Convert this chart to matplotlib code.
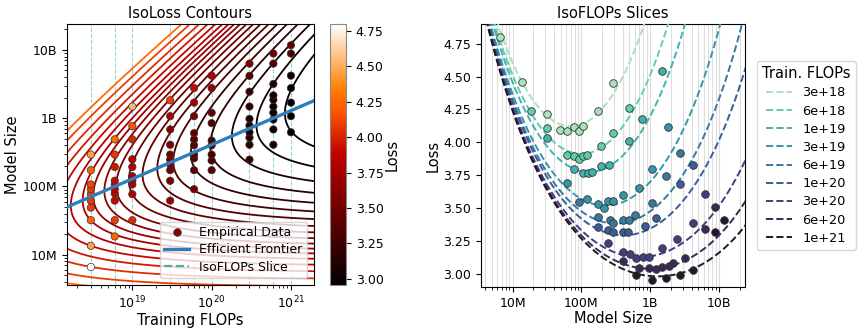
import numpy as np
import matplotlib
matplotlib.use("Agg")
import matplotlib.pyplot as plt
import seaborn as sns
from matplotlib.lines import Line2D
from matplotlib.ticker import FuncFormatter, LogLocator, NullFormatter

# ---------------- data ----------------
budgets = [3e18, 6e18, 1e19, 3e19, 6e19, 1e20, 3e20, 6e20, 1e21]
budget_labels = ["3e+18", "6e+18", "1e+19", "3e+19", "6e+19", "1e+20", "3e+20", "6e+20", "1e+21"]

n_3e18 = [6.6e6, 13.5e6, 32e6, 49e6, 62e6, 77e6, 91e6, 107e6, 173e6, 293e6]
l_3e18 = [4.80, 4.458, 4.212, 4.096, 4.083, 4.116, 4.09, 4.121, 4.238, 4.45]
n_6e18 = [18.5e6, 32e6, 62e6, 79e6, 91e6, 107e6, 121e6, 193e6, 293e6, 489e6]
l_6e18 = [4.235, 4.108, 3.905, 3.898, 3.875, 3.895, 3.905, 3.971, 4.073, 4.263]
n_1e19 = [32e6, 77e6, 107e6, 123e6, 141e6, 193e6, 250e6, 489e6, 764e6, 1.48e9]
l_1e19 = [4.03, 3.80, 3.768, 3.768, 3.778, 3.817, 3.83, 4.014, 4.174, 4.542]
n_3e19 = [62e6, 121e6, 173e6, 211e6, 247e6, 293e6, 408e6, 684e6, 1.07e9, 1.83e9]
l_3e19 = [3.692, 3.566, 3.528, 3.502, 3.553, 3.553, 3.596, 3.652, 3.794, 4.116]
n_6e19 = [91e6, 173e6, 258e6, 293e6, 400e6, 489e6, 603e6, 1.07e9, 1.69e9, 2.76e9]
l_6e19 = [3.545, 3.436, 3.413, 3.39, 3.413, 3.413, 3.449, 3.54, 3.742, 3.92]
n_1e20 = [173e6, 240e6, 293e6, 400e6, 470e6, 845e6, 1.2e9, 2.76e9, 4.2e9]
l_1e20 = [3.355, 3.337, 3.322, 3.322, 3.322, 3.363, 3.424, 3.685, 3.83]
n_3e20 = [247e6, 408e6, 518e6, 622e6, 781e6, 977e6, 1.48e9, 2.44e9, 4.17e9, 6.3e9]
l_3e20 = [3.233, 3.165, 3.15, 3.122, 3.13, 3.13, 3.195, 3.266, 3.388, 3.61]
n_6e20 = [408e6, 684e6, 955e6, 1.2e9, 1.48e9, 1.86e9, 2.16e9, 3.17e9, 6.3e9, 8.85e9]
l_6e20 = [3.10, 3.046, 3.043, 3.038, 3.05, 3.058, 3.083, 3.118, 3.34, 3.507]
n_1e21 = [622e6, 1.07e9, 1.69e9, 2.76e9, 4.2e9, 8.85e9, 11.7e9]
l_1e21 = [2.99, 2.957, 2.967, 2.99, 3.03, 3.317, 3.41]

sizes = [n_3e18, n_6e18, n_1e19, n_3e19, n_6e19, n_1e20, n_3e20, n_6e20, n_1e21]
losses = [l_3e18, l_6e18, l_1e19, l_3e19, l_6e19, l_1e20, l_3e20, l_6e20, l_1e21]

# fitted parametric law L(N, D) = E + A/N^alpha + B/D^beta, D = C/(6N)
E_fit, A_fit, B_fit = 2.402, 755.0, 4246.0
alpha_fit, beta_fit = 0.375, 0.375
# iso-loss contour levels
contour_levels = [3.0, 3.1, 3.2, 3.3, 3.4, 3.5, 3.6, 3.7, 3.8, 3.9, 4.0, 4.1, 4.2,
                  4.32, 4.464, 4.637, 4.844, 5.093, 5.342]

tick_names = {1e7: "10M", 1e8: "100M", 1e9: "1B", 1e10: "10B"}
loss_ticks = [3.0, 3.25, 3.5, 3.75, 4.0, 4.25, 4.5, 4.75]


def loss_fn(N, C):
    D = C / (6.0 * N)
    return E_fit + A_fit / N ** alpha_fit + B_fit / D ** beta_fit


def size_fmt(v, pos):
    for k, s in tick_names.items():
        if abs(v / k - 1) < 1e-6:
            return s
    return ""


# ---------------- figure ----------------
fig = plt.figure(figsize=(8.59, 3.30), dpi=100)
ax1 = fig.add_axes([0.078, 0.1364, 0.2875, 0.791])
cax = fig.add_axes([0.3842, 0.1364, 0.0186, 0.791])
ax2 = fig.add_axes([0.560, 0.1303, 0.3073, 0.797])

# ---- left: IsoLoss contours ----
Cg = np.logspace(18.0, 21.5, 400)
Ng = np.logspace(6.4, 10.6, 400)
CC, NN = np.meshgrid(Cg, Ng)
LL = loss_fn(NN, CC)
cmap = plt.get_cmap("gist_heat")
fracs = list(np.linspace(0.0, 0.62, len(contour_levels) - 1)) + [0.71]
ax1.contour(CC, NN, LL, levels=contour_levels, colors=[cmap(f) for f in fracs],
            linewidths=1.3)

for c in budgets:
    ax1.axvline(c, color="#9ad6d6", ls="--", lw=0.8, zorder=1)

allC = np.concatenate([[c] * len(n) for c, n in zip(budgets, sizes)])
allN = np.concatenate(sizes)
allL = np.concatenate(losses)
sc = ax1.scatter(allC, allN, c=allL, cmap="gist_heat", vmin=min(allL), vmax=max(allL),
                 s=28, edgecolors="#333333", linewidths=0.5, zorder=4)

Cf = np.logspace(18.0, 21.5, 50)
Nopt = (A_fit / B_fit) ** (1 / (2 * alpha_fit)) * np.sqrt(Cf / 6.0)
ax1.plot(Cf, Nopt, color="#2e7ebc", lw=2.4, zorder=5)

ax1.set_xscale("log")
ax1.set_yscale("log")
ax1.set_xlim(1.5e18, 1.95e21)
ax1.set_ylim(3.6e6, 2.4e10)
ax1.yaxis.set_major_formatter(FuncFormatter(size_fmt))
ax1.yaxis.set_minor_formatter(NullFormatter())
ax1.set_xlabel("Training FLOPs", fontsize=10.5, labelpad=1)
ax1.set_ylabel("Model Size", fontsize=10.5, labelpad=2)
ax1.set_title("IsoLoss Contours", fontsize=10.5, pad=4)
ax1.tick_params(labelsize=9)

handles = [
    Line2D([], [], ls="none", marker="o", markersize=5.5, markerfacecolor="#8b0000",
           markeredgecolor="#333333", markeredgewidth=0.5),
    Line2D([], [], color="#2e7ebc", lw=2.4),
    Line2D([], [], color="#4aaeae", lw=1.6, ls="--"),
]
ax1.legend(handles, ["Empirical Data", "Efficient Frontier", "IsoFLOPs Slice"],
           loc="lower right", fontsize=9, framealpha=0.8, borderpad=0.35,
           handlelength=2.0, labelspacing=0.35, borderaxespad=0.55)

cb = fig.colorbar(sc, cax=cax)
cb.set_ticks(loss_ticks)
cb.ax.set_yticklabels(["%.2f" % t for t in loss_ticks])
cb.ax.tick_params(labelsize=9)
cb.outline.set_edgecolor("#888888")
cb.set_label("Loss", fontsize=10.5, labelpad=1)

# ---- right: IsoFLOPs slices ----
palette = sns.color_palette("mako_r", len(budgets))
Nc = np.logspace(6.45, 10.45, 300)
for c, lab, col, n, l in zip(budgets, budget_labels, palette, sizes, losses):
    ax2.plot(Nc, loss_fn(Nc, c), ls="--", color=col, lw=1.4, label=lab, zorder=3)
    ax2.scatter(n, l, color=col, s=30, edgecolors="#333333", linewidths=0.6, zorder=4)

ax2.set_xscale("log")
ax2.set_xlim(3.47e6, 2.4e10)
ax2.set_ylim(2.90, 4.90)
ax2.xaxis.set_major_locator(LogLocator(base=10, numticks=12))
ax2.xaxis.set_minor_locator(LogLocator(base=10, subs=np.arange(2, 10), numticks=12))
ax2.xaxis.set_major_formatter(FuncFormatter(size_fmt))
ax2.xaxis.set_minor_formatter(NullFormatter())
ax2.grid(True, which="both", axis="x", color="#dddddd", lw=0.8)
ax2.set_axisbelow(True)
ax2.set_yticks(loss_ticks)
ax2.set_yticklabels(["%.2f" % t for t in loss_ticks])
ax2.set_xlabel("Model Size", fontsize=10.5, labelpad=1)
ax2.set_ylabel("Loss", fontsize=10.5, labelpad=2)
ax2.set_title("IsoFLOPs Slices", fontsize=10.5, pad=4)
ax2.tick_params(labelsize=9)
ax2.legend(title="Train. FLOPs", loc="center left", bbox_to_anchor=(1.02, 0.5),
           fontsize=9.3, title_fontsize=10.5, handlelength=2.0, labelspacing=0.4,
           borderpad=0.4)

fig.savefig("out.png", dpi=100)
